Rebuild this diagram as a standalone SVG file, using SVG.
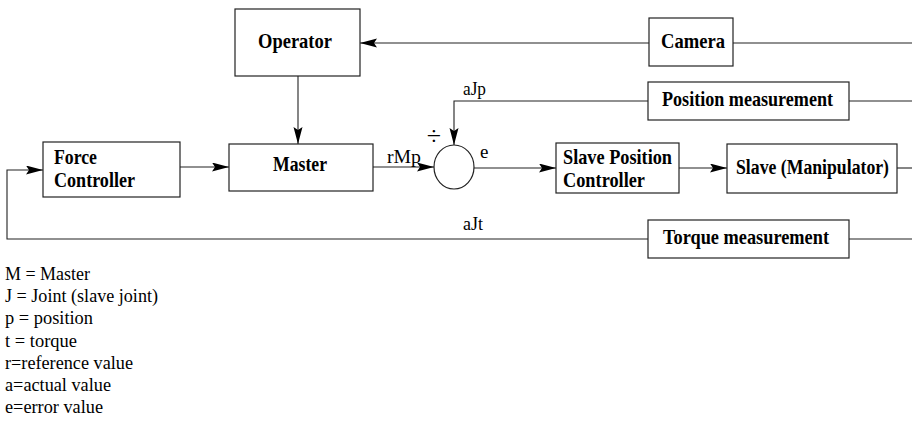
<svg xmlns="http://www.w3.org/2000/svg" width="912" height="421" viewBox="0 0 912 421">
<style>
.box{fill:#fff;stroke:#222;stroke-width:1.2}
.ln{fill:none;stroke:#222;stroke-width:1.1}
.arr{marker-end:url(#ah)}
.b{font-family:"Liberation Serif","Times New Roman",serif;font-weight:bold;font-size:21px;fill:#000}
.t{font-family:"Liberation Serif","Times New Roman",serif;font-size:19px;fill:#000}
</style>
<defs>
<marker id="ah" markerUnits="userSpaceOnUse" markerWidth="18" markerHeight="10" refX="17" refY="4.5" orient="auto">
<path d="M0,0 L17,4.5 L0,9 L3,4.5 z" fill="#000"/>
</marker>
</defs>
<g id="connectors">
<path class="ln arr" d="M649,43 H360"/>
<path class="ln" d="M733,43 H912"/>
<path class="ln arr" d="M298,76 V144"/>
<path class="ln arr" d="M180,167 H229"/>
<path class="ln arr" d="M373,167 H434"/>
<path class="ln arr" d="M648,101 H454 V145"/>
<path class="ln" d="M849,101 H912"/>
<path class="ln arr" d="M474,168 H556"/>
<path class="ln arr" d="M679,168 H727"/>
<path class="ln" d="M897,168 H912"/>
<path class="ln arr" d="M648,239 H7 V170 H43"/>
<path class="ln" d="M849,239 H912"/>
<text class="t" x="387" y="163" textLength="34" lengthAdjust="spacingAndGlyphs">rMp</text>
<text class="t" x="463" y="95" textLength="23" lengthAdjust="spacingAndGlyphs">aJp</text>
<text class="t" x="480" y="158">e</text>
<text class="t" x="463" y="230" textLength="20" lengthAdjust="spacingAndGlyphs">aJt</text>
</g>
<g id="operator">
<rect class="box" x="235" y="9" width="125" height="67"/>
<text class="b" x="258" y="48" textLength="74" lengthAdjust="spacingAndGlyphs">Operator</text>
</g>
<g id="camera">
<rect class="box" x="649" y="18" width="84" height="48"/>
<text class="b" x="661" y="48" textLength="64" lengthAdjust="spacingAndGlyphs">Camera</text>
</g>
<g id="force-controller">
<rect class="box" x="43" y="142" width="137" height="55"/>
<text class="b" x="54" y="164" textLength="43" lengthAdjust="spacingAndGlyphs">Force</text>
<text class="b" x="54" y="187" textLength="81" lengthAdjust="spacingAndGlyphs">Controller</text>
</g>
<g id="master">
<rect class="box" x="229" y="144" width="144" height="47"/>
<text class="b" x="273" y="171" textLength="54" lengthAdjust="spacingAndGlyphs">Master</text>
</g>
<g id="summing-junction">
<ellipse class="box" cx="454" cy="167" rx="20" ry="22"/>
<text class="t" x="434" y="145" text-anchor="middle" style="font-size:26px">÷</text>
</g>
<g id="position-measurement">
<rect class="box" x="648" y="82" width="201" height="38"/>
<text class="b" x="662" y="106" textLength="171" lengthAdjust="spacingAndGlyphs">Position measurement</text>
</g>
<g id="slave-position-controller">
<rect class="box" x="556" y="143" width="123" height="50"/>
<text class="b" x="563" y="164" textLength="109" lengthAdjust="spacingAndGlyphs">Slave Position</text>
<text class="b" x="563" y="187" textLength="82" lengthAdjust="spacingAndGlyphs">Controller</text>
</g>
<g id="slave">
<rect class="box" x="727" y="144" width="170" height="49"/>
<text class="b" x="736" y="174" style="font-size:20px" textLength="153" lengthAdjust="spacingAndGlyphs">Slave (Manipulator)</text>
</g>
<g id="torque-measurement">
<rect class="box" x="648" y="220" width="201" height="38"/>
<text class="b" x="663" y="244" textLength="166" lengthAdjust="spacingAndGlyphs">Torque measurement</text>
</g>
<g id="legend">
<text class="t" x="5" y="280" textLength="85" lengthAdjust="spacingAndGlyphs">M = Master</text>
<text class="t" x="5" y="302" textLength="153" lengthAdjust="spacingAndGlyphs">J = Joint (slave joint)</text>
<text class="t" x="5" y="324" textLength="88" lengthAdjust="spacingAndGlyphs">p = position</text>
<text class="t" x="5" y="347" textLength="72" lengthAdjust="spacingAndGlyphs">t = torque</text>
<text class="t" x="5" y="369" textLength="128" lengthAdjust="spacingAndGlyphs">r=reference value</text>
<text class="t" x="5" y="391" textLength="106" lengthAdjust="spacingAndGlyphs">a=actual value</text>
<text class="t" x="5" y="413" textLength="98" lengthAdjust="spacingAndGlyphs">e=error value</text>
</g>
</svg>
